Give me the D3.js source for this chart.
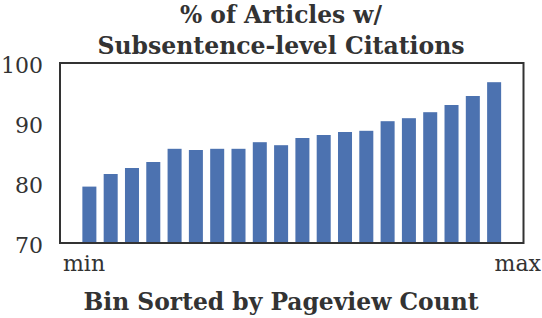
<!DOCTYPE html>
<html><head><meta charset="utf-8">
<script src="https://cdn.jsdelivr.net/npm/d3@7"></script>
<style>body{margin:0;background:#fff}svg{display:block}</style>
</head><body><svg id="c" width="542" height="318"></svg>
<script>
const bins = d3.range(1, 21);
const values = [79.4, 81.5, 82.5, 83.5, 85.7, 85.5, 85.7, 85.7, 86.8, 86.3,
                87.5, 88.0, 88.5, 88.7, 90.3, 90.8, 91.8, 93.0, 94.5, 96.8];
const yTicks = [70, 80, 90, 100];
const xTickLabels = ["min", "max"];
const titleLines = ["% of Articles w/", "Subsentence-level Citations"];
const xTitle = "Bin Sorted by Pageview Count";

const svg = d3.select("#c");
const L = 60, R = 523.5, T = 63, B = 243;
const font = "'DejaVu Serif', serif";
const boldFont = "'DejaVu Serif Condensed', 'DejaVu Serif', serif";
const x = d3.scaleBand().domain(bins).range([L, R]).paddingInner(0.342).paddingOuter(1.05);
const y = d3.scaleLinear().domain([70, 100]).range([B, T]);

svg.append("g").selectAll("rect").data(values).join("rect")
  .attr("x", (d, i) => x(bins[i])).attr("width", x.bandwidth())
  .attr("y", d => y(d)).attr("height", d => y(70) - y(d))
  .attr("fill", "#4C72B0");

svg.append("rect").attr("x", L).attr("y", T).attr("width", R - L).attr("height", B - T)
  .attr("fill", "none").attr("stroke", "#333").attr("stroke-width", 2);

const ya = d3.axisLeft(y).tickValues(yTicks).tickSize(0).tickPadding(17);
const yg = svg.append("g").attr("transform", `translate(${L},2)`).call(ya);
yg.select(".domain").remove();
yg.selectAll("text").attr("font-family", font).attr("font-size", 22).attr("fill", "#333");

svg.append("text").attr("x", 63).attr("y", 271).attr("text-anchor", "start")
  .attr("font-family", font).attr("font-size", 22).attr("fill", "#333").text(xTickLabels[0]);
svg.append("text").attr("x", 541).attr("y", 271).attr("text-anchor", "end")
  .attr("font-family", font).attr("font-size", 22).attr("fill", "#333").text(xTickLabels[1]);

svg.append("text").attr("x", 281).attr("y", 310).attr("text-anchor", "middle")
  .attr("font-family", boldFont).attr("font-weight", "bold").attr("font-size", 25).attr("fill", "#333")
  .attr("textLength", 395).attr("lengthAdjust", "spacingAndGlyphs")
  .text(xTitle);

const tl = [202, 367];
svg.append("g").selectAll("text").data(titleLines).join("text")
  .attr("x", 281).attr("y", (d, i) => 23 + i * 31).attr("text-anchor", "middle")
  .attr("font-family", boldFont).attr("font-weight", "bold").attr("font-size", 24).attr("fill", "#333")
  .attr("textLength", (d, i) => tl[i]).attr("lengthAdjust", "spacingAndGlyphs")
  .text(d => d);
</script></body></html>
